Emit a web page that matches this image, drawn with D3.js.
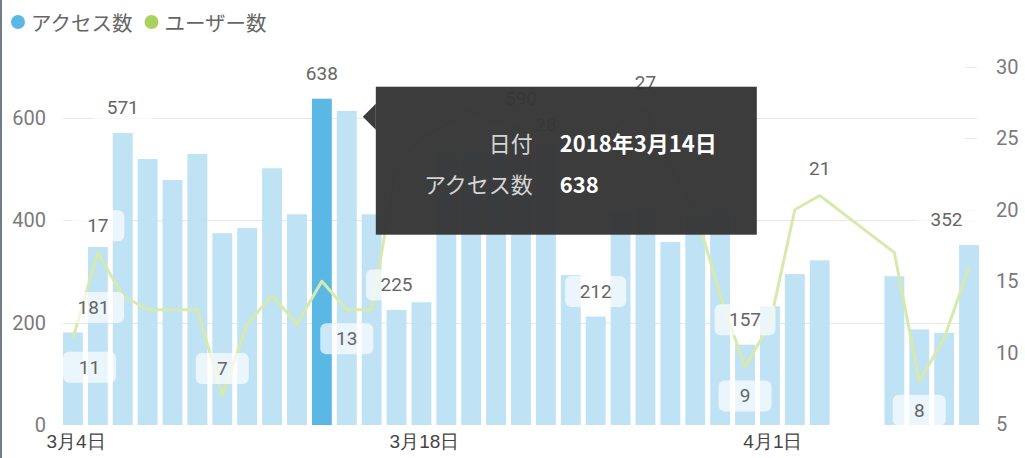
<!DOCTYPE html>
<html><head><meta charset="utf-8">
<script src="https://cdn.jsdelivr.net/npm/d3@7"></script>
<style>
html,body{margin:0;padding:0;background:#fff;}
svg{display:block;font-family:Roboto,"Noto Sans CJK JP",sans-serif;}
</style></head>
<body><svg id="chart" width="1025" height="458"></svg>
<script>
// ---- data ----
const dates = ["2018-03-04","2018-03-05","2018-03-06","2018-03-07","2018-03-08","2018-03-09","2018-03-10",
"2018-03-11","2018-03-12","2018-03-13","2018-03-14","2018-03-15","2018-03-16","2018-03-17",
"2018-03-18","2018-03-19","2018-03-20","2018-03-21","2018-03-22","2018-03-23","2018-03-24",
"2018-03-25","2018-03-26","2018-03-27","2018-03-28","2018-03-29","2018-03-30","2018-03-31",
"2018-04-01","2018-04-02","2018-04-03","2018-04-04","2018-04-05","2018-04-06","2018-04-07",
"2018-04-08","2018-04-09"];
const access = [181,348,571,520,479,530,375,385,502,412,638,614,412,225,240,535,530,540,590,545,293,212,415,420,358,412,418,157,232,295,322,null,null,291,187,180,352];
const users  = [11,17,14,13,13,13,7,12,14,12,15,13,13,23,25,26,27,26,27,28,24,25,26,27,23,20,14,9,12,20,21,null,null,17,8,11,16];
const leftTicks = [0,200,400,600];
const rightTicks = [5,10,15,20,25,30];
const xTickDates = ["2018-03-04","2018-03-18","2018-04-01"];
const legendNames = ["アクセス数","ユーザー数"];
const barLabelIdx = [0,2,10,13,18,21,27,36];
const lineLabelIdx = [0,1,6,11,19,23,27,30,34];
const lineLabelPos = ["below","above","above","below","below","above","below","above","below"];
const highlightIdx = 10;
const tooltipRows = [["日付","2018年3月14日"],["アクセス数","638"]];

// ---- setup ----
const svg = d3.select("#chart");
const parse = d3.timeParse("%Y-%m-%d");
const dd = dates.map(parse);
const plotL = 63, plotR = 977, plotTop = 67, plotBottom = 425;
const x = d3.scaleTime().domain([dd[0], d3.timeDay.offset(dd[dd.length-1],1)]).range([63, 984]);
const step = x(dd[1]) - x(dd[0]);
const bw = step - 5;
const yL = d3.scaleLinear().domain([0,700]).range([plotBottom, plotTop]);
const yR = d3.scaleLinear().domain([5,30]).range([424, plotTop]);

const C = {bar:"#bfe2f4", barHi:"#5bb8e5", legBlue:"#5bb8e5", legGreen:"#a9d35c", line:"#d6eaae",
  grid:"#e7e7e7", axis:"#7a7a7a", xaxis:"#444", label:"#666"};

// left border
svg.append("rect").attr("x",0).attr("y",0).attr("width",2).attr("height",458).attr("fill","#707c8a");

// gridlines
svg.append("g").selectAll("line").data(leftTicks.filter(t=>t>0)).join("line")
  .attr("x1",plotL).attr("x2",plotR).attr("y1",d=>Math.round(yL(d))+0.5).attr("y2",d=>Math.round(yL(d))+0.5)
  .attr("stroke",C.grid).attr("stroke-width",1);
svg.append("g").selectAll("line").data(rightTicks.filter(t=>t>5)).join("line")
  .attr("x1",965).attr("x2",plotR).attr("y1",d=>Math.round(yR(d))+0.5).attr("y2",d=>Math.round(yR(d))+0.5)
  .attr("stroke",C.grid).attr("stroke-width",1);

// left axis
const gL = svg.append("g").attr("transform","translate(46,0)")
  .call(d3.axisLeft(yL).tickValues(leftTicks).tickSize(0).tickPadding(0));
gL.select(".domain").remove();
gL.selectAll("text").attr("fill",C.axis).attr("font-size",20).attr("font-family","Roboto,sans-serif");

// right axis
const gR = svg.append("g").attr("transform","translate(996,0)")
  .call(d3.axisRight(yR).tickValues(rightTicks).tickSize(0).tickPadding(0));
gR.select(".domain").remove();
gR.selectAll("text").attr("fill",C.axis).attr("font-size",20).attr("font-family","Roboto,sans-serif");

// x axis
const gX = svg.append("g").attr("transform",`translate(${step/2},${plotBottom})`)
  .call(d3.axisBottom(x).tickValues(xTickDates.map(parse)).tickSize(0).tickPadding(6)
     .tickFormat(d=>`${d.getMonth()+1}月${d.getDate()}日`));
gX.select(".domain").remove();
gX.selectAll("text").attr("fill",C.xaxis).attr("font-size",19).attr("dy","0.9em");

// bars
const barData = dd.map((d,i)=>({d,i,v:access[i]})).filter(o=>o.v!=null);
svg.append("g").selectAll("rect").data(barData).join("rect")
  .attr("x",o=>x(o.d)).attr("width",bw)
  .attr("y",o=>yL(o.v)).attr("height",o=>yL(0)-yL(o.v))
  .attr("fill",o=>o.i===highlightIdx?C.barHi:C.bar);

// line
const lineData = dd.map((d,i)=>({d,i,v:users[i]})).filter(o=>o.v!=null);
svg.append("path").datum(lineData)
  .attr("d",d3.line().x(o=>x(o.d)+bw/2).y(o=>yR(o.v)))
  .attr("fill","none").attr("stroke",C.line).attr("stroke-width",3).attr("stroke-linejoin","round");

// labels
const labG = svg.append("g");
function addLabel(cx, cy, text){
  const g = labG.append("g");
  const t = g.append("text").text(text).attr("font-size",19).attr("fill",C.label)
    .attr("text-anchor","middle").attr("dominant-baseline","central").attr("font-family","Roboto,sans-serif");
  const tw = t.node().getComputedTextLength();
  const w = Math.max(53, tw+29), h = 31;
  let bx = cx - w/2;
  if (bx < plotL) bx = plotL;
  if (bx + w > plotR) bx = plotR - w;
  g.insert("rect","text").attr("x",bx).attr("y",cy-h/2).attr("width",w).attr("height",h).attr("rx",6)
    .attr("fill","#fff").attr("fill-opacity",0.68);
  t.attr("x",bx+w/2).attr("y",cy);
}
barLabelIdx.forEach(i=>{
  addLabel(x(dd[i])+bw/2, yL(access[i])-25, access[i]);
});
lineLabelIdx.forEach((i,k)=>{
  const py = yR(users[i]);
  addLabel(x(dd[i])+bw/2, lineLabelPos[k]==="above"? py-27 : py+29, users[i]);
});

// legend
const leg = svg.append("g");
const legColors = [C.legBlue, C.legGreen];
let lx = 18;
legendNames.forEach((n,k)=>{
  leg.append("circle").attr("cx",lx).attr("cy",22).attr("r",7).attr("fill",legColors[k]);
  const t = leg.append("text").attr("x",lx+13).attr("y",22).attr("dominant-baseline","central")
    .attr("font-size",20.5).attr("fill","#666").attr("font-family","'Noto Sans CJK JP',sans-serif").text(n);
  lx += 13 + t.node().getComputedTextLength() + 19;
});

// tooltip
const hb = x(dd[highlightIdx]) + bw;
const tipX = hb + 31, boxX = tipX + 13, boxY = yL(access[highlightIdx]) - 12;
const tip = svg.append("g");
tip.append("path").attr("d",`M${tipX},${boxY+30} L${boxX},${boxY+17} L${boxX},${boxY+43} Z`).attr("fill","#363636").attr("fill-opacity",0.97);
tip.append("rect").attr("x",boxX).attr("y",boxY).attr("width",381).attr("height",148).attr("fill","#363636").attr("fill-opacity",0.97);
tooltipRows.forEach((r,k)=>{
  const by = boxY + 55 + k*41;
  tip.append("text").attr("x",boxX+157).attr("y",by).attr("dominant-baseline","central").attr("text-anchor","end")
    .attr("font-size",22).attr("fill","#d4d4d4").attr("font-family","'Noto Sans CJK JP',sans-serif").text(r[0]);
  tip.append("text").attr("x",boxX+184).attr("y",by).attr("dominant-baseline","central")
    .attr("font-size",22).attr("font-weight","bold").attr("fill","#fff").attr("font-family","'Noto Sans CJK JP',sans-serif").text(r[1]);
});
</script></body></html>
